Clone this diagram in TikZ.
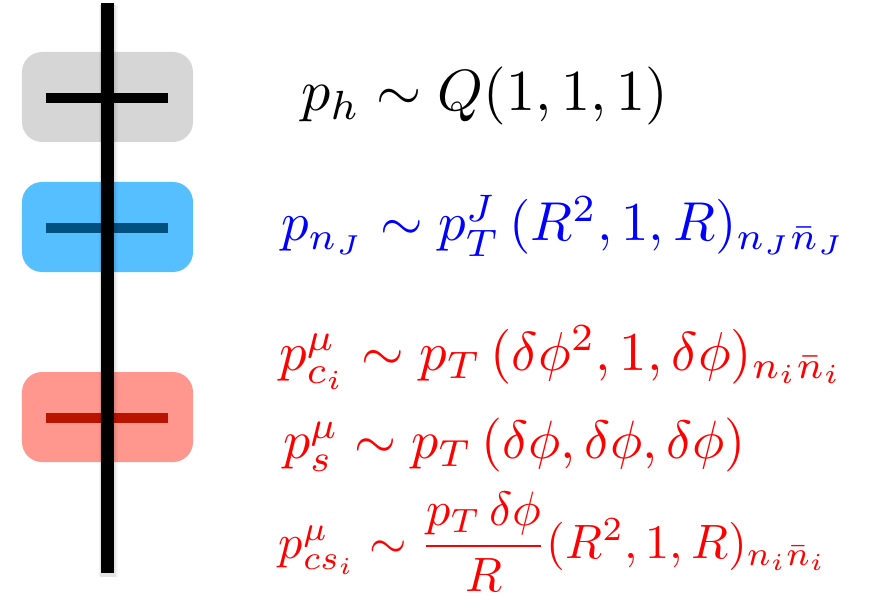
\documentclass[tikz,border=0pt]{standalone}
\usepackage{amsmath}
\definecolor{boxgray}{HTML}{D6D6D6}
\definecolor{boxblue}{HTML}{56BFFF}
\definecolor{boxred}{HTML}{FF978E}
\definecolor{barblue}{HTML}{005080}
\definecolor{barred}{HTML}{B81400}
\tikzset{
  modebox/.style={draw=none, rounded corners=20bp, minimum width=171bp, minimum height=90bp, inner sep=0pt},
  modebar/.style={line width=10bp},
  eqn/.style={anchor=base west, inner sep=0pt, scale=5.5}
}
\begin{document}
\begin{tikzpicture}[x=1bp,y=-1bp]
\useasboundingbox (0,0) rectangle (873,596);
% boxes
\node[modebox, fill=boxgray] (bg) at (107.5,97) {};
\node[modebox, fill=boxblue] (bb) at (107.5,227) {};
\node[modebox, fill=boxred] (br) at (107.5,417) {};
% bars
\coordinate (g1) at (46,98); \coordinate (g2) at (168,98);
\coordinate (b1) at (46,228); \coordinate (b2) at (168,228);
\coordinate (r1) at (46,418); \coordinate (r2) at (168,418);
\draw[modebar, black] (g1) -- (g2);
\draw[modebar, barblue] (b1) -- (b2);
\draw[modebar, barred] (r1) -- (r2);
% vertical line with soft shadow
\coordinate (vt) at (107.5,3);
\coordinate (vb) at (107.5,573);
\coordinate (st) at (108,5);
\coordinate (sb) at (108,577);
\draw[line width=19bp, black, opacity=0.04] (st) -- (sb);
\draw[line width=16bp, black, opacity=0.07] (st) -- (sb);
\draw[line width=13bp, black] (vt) -- (vb);
% equations
\node[eqn, scale=1.06, text=black] (e1) at (300,111) {$p_h \sim Q(1,1,1)$};
\node[eqn, text=blue] (e2) at (280,241) {$p_{n_J} \sim p_T^J\,(R^2,1,R)_{n_J\bar n_J}$};
\node[eqn, text=red] (e3) at (278,370) {$p^\mu_{c_i} \sim p_T\,(\delta\phi^2,1,\delta\phi)_{n_i\bar n_i}$};
\node[eqn, scale=0.985, text=red] (e4) at (282,458) {$p^\mu_{s} \sim p_T\,(\delta\phi,\delta\phi,\delta\phi)$};
\node[eqn, scale=0.88, text=red] (e5) at (278,558) {$p^\mu_{cs_i} \sim \dfrac{p_T\,\delta\phi}{R}(R^2,1,R)_{n_i\bar n_i}$};
\end{tikzpicture}
\end{document}
